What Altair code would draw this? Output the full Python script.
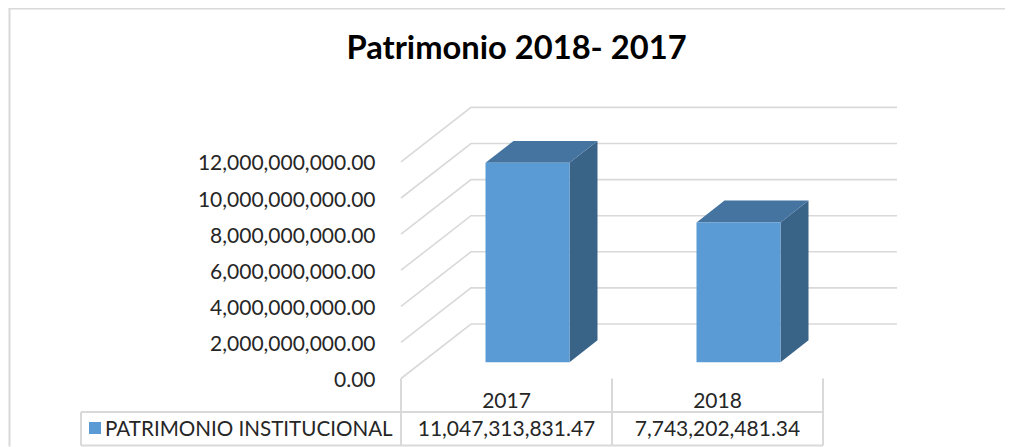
import altair as alt
import pandas as pd

years = ["2017", "2018"]
values = [11047313831.47, 7743202481.34]
value_labels = ["11,047,313,831.47", "7,743,202,481.34"]
series_name = "PATRIMONIO INSTITUCIONAL"
ticks = [0, 2e9, 4e9, 6e9, 8e9, 10e9, 12e9]
title = "Patrimonio 2018- 2017"

FONT = "Lato"
W, H = 997, 439
# pixel calibration of the pseudo-3D box (page offset 8px)
FX0, STEP, RIGHT = 401 - 8, 211, 897 - 8
Y0, PX_PER_VAL = 378.5 - 8, 36.1 / 2e9
DEPTH_X = 70 / STEP
DEPTH_V = 54.5 / PX_PER_VAL
BAR_W = 84 / STEP
GAP = (1 - BAR_W) / 2

x_scale = alt.Scale(domain=[-FX0 / STEP, (W - FX0) / STEP], nice=False, zero=False)
y_scale = alt.Scale(domain=[(Y0 - H) / PX_PER_VAL, Y0 / PX_PER_VAL], nice=False, zero=False)
X_END = (RIGHT - FX0) / STEP

wall = []
for t in ticks:
    wall += [
        {"t": t, "o": 0, "x": 0, "y": t},
        {"t": t, "o": 1, "x": DEPTH_X, "y": t + DEPTH_V},
        {"t": t, "o": 2, "x": X_END, "y": t + DEPTH_V},
    ]

fronts, sides, tops = [], [], []
for i, (yr, v) in enumerate(zip(years, values)):
    x0 = i + GAP + 0.3 * DEPTH_X
    x1 = x0 + BAR_W
    dx = 0.4 * DEPTH_X
    dv = 0.4 * DEPTH_V
    b = 0.3 * DEPTH_V
    t = v + b
    fronts.append({"yr": yr, "x": x0, "x2": x1, "y": b, "y2": t})
    sides += [
        {"yr": yr, "x": x1, "y": t, "y2": b},
        {"yr": yr, "x": x1 + dx, "y": t + dv, "y2": b + dv},
    ]
    tops += [
        {"yr": yr, "x": x0, "y": t, "y2": t},
        {"yr": yr, "x": x0 + dx, "y": t + dv, "y2": t},
        {"yr": yr, "x": x1, "y": t + dv, "y2": t},
        {"yr": yr, "x": x1 + dx, "y": t + dv, "y2": t + dv},
    ]

X = alt.X("x:Q", scale=x_scale, axis=None)
Y = alt.Y("y:Q")
GRID = "#d9d9d9"
TEXT = "#262626"

walls = alt.Chart(pd.DataFrame(wall)).mark_line(color=GRID, strokeWidth=1.6).encode(
    x=X,
    y=alt.Y(
        "y:Q",
        scale=y_scale,
        title=None,
        axis=alt.Axis(
            values=ticks, format=",.2f", domain=False, ticks=False, grid=False,
            offset=-(375 - 8), labelPadding=0, labelOffset=2, labelFont=FONT, labelFontSize=21,
            labelColor=TEXT, title=None, labelOverlap=False,
        ),
    ),
    detail="t:N",
    order="o:Q",
)
side = alt.Chart(pd.DataFrame(sides)).mark_area(color="#3a6388").encode(
    x=X, y=Y, y2="y2:Q", detail="yr:N"
)
top = alt.Chart(pd.DataFrame(tops)).mark_area(color="#4574a0").encode(
    x=X, y=Y, y2="y2:Q", detail="yr:N"
)
front = alt.Chart(pd.DataFrame(fronts)).mark_rect(color="#5b9bd5").encode(
    x=X, x2="x2:Q", y=Y, y2="y2:Q"
)

# data table under the plot
TOP, BOT, CAT_Y, ROW_Y = 412 - 8, 437.5, 402 - 8, 429.5 - 8
cols = pd.DataFrame({"x": [0, 1, 2]})
vlines = alt.Chart(cols).mark_rule(color=GRID, strokeWidth=2).encode(
    x=X, y=alt.value(Y0), y2=alt.value(BOT)
)
left_line = alt.Chart(pd.DataFrame({"a": [0]})).mark_rule(color=GRID, strokeWidth=2).encode(
    x=alt.value(81 - 8), y=alt.value(TOP), y2=alt.value(BOT)
)
hlines = alt.Chart(pd.DataFrame({"yy": [TOP, BOT]})).mark_rule(color=GRID, strokeWidth=2).encode(
    x=alt.value(81 - 8), x2=alt.value(823 - 8), y=alt.Y("yy:Q", scale=None, axis=None)
)
cells = pd.DataFrame({
    "x": [0.5, 1.5], "yr": years, "lab": value_labels,
})
cat_text = alt.Chart(cells).mark_text(font=FONT, fontSize=21, color=TEXT).encode(
    x=X, y=alt.value(CAT_Y), text="yr:N"
)
val_text = alt.Chart(cells).mark_text(font=FONT, fontSize=21, color=TEXT).encode(
    x=X, y=alt.value(ROW_Y), text="lab:N"
)
name_text = alt.Chart(pd.DataFrame({"n": [series_name]})).mark_text(
    font=FONT, fontSize=20.6, color=TEXT, align="left"
).encode(x=alt.value(105 - 8), y=alt.value(ROW_Y), text="n:N")
swatch = alt.Chart(pd.DataFrame({"n": [series_name]})).mark_rect(color="#5b9bd5").encode(
    x=alt.value(89 - 8), x2=alt.value(101 - 8), y=alt.value(422 - 8), y2=alt.value(434 - 8)
)

# outer frame
frame_l = alt.Chart(pd.DataFrame({"a": [0]})).mark_rule(color=GRID, strokeWidth=2).encode(
    x=alt.value(1.5), y=alt.value(0.5), y2=alt.value(H - 0.5)
)
frame_t = alt.Chart(pd.DataFrame({"a": [0]})).mark_rule(color=GRID, strokeWidth=1.5).encode(
    x=alt.value(0.5), x2=alt.value(W), y=alt.value(0.75)
)

chart = alt.layer(
    walls, frame_l, frame_t, vlines, left_line, hlines, side, top, front,
    cat_text, val_text, name_text, swatch,
).properties(
    width=W,
    height=H,
    padding=0,
    autosize=alt.AutoSizeParams(type="none"),
    title=alt.TitleParams(
        title, font=FONT, fontSize=32.7, fontWeight="bold", color="#000000",
        anchor="middle", frame="group", offset=-58, dx=10,
    ),
).configure_view(stroke=None)

chart.save("out.html", embed_options={"renderer": "svg", "actions": False})
